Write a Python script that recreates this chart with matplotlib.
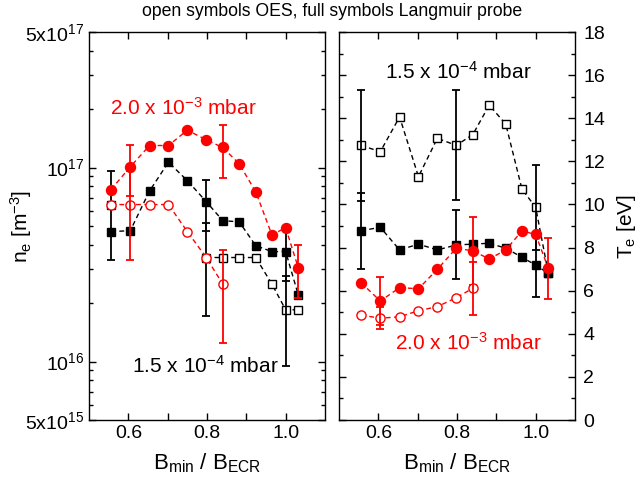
import numpy as np
import matplotlib.pyplot as plt
from matplotlib.ticker import FixedLocator, LogLocator, MultipleLocator, NullFormatter

plt.rcParams['font.family'] = ['Liberation Sans', 'DejaVu Sans']
plt.rcParams['mathtext.fontset'] = 'custom'
plt.rcParams['mathtext.rm'] = 'Liberation Sans'
plt.rcParams['mathtext.it'] = 'Liberation Sans:italic'
plt.rcParams['mathtext.bf'] = 'Liberation Sans:bold'

nan = np.nan

# B_min / B_ECR
b_ratio = np.array([0.556, 0.605, 0.654, 0.702, 0.750, 0.798,
                    0.840, 0.882, 0.924, 0.965, 1.000, 1.032])

# electron density n_e [m^-3]
ne_lp_low = [4.68e16, 4.73e16, 7.58e16, 1.066e17, 8.57e16, 6.68e16,
             5.33e16, 5.25e16, 3.96e16, 3.69e16, 3.69e16, 2.21e16]
ne_lp_low_err = [nan, nan, nan, nan, nan, 1.98e16, nan, nan, nan, nan, 1.1e16, nan]
ne_oes_low = [6.45e16, nan, nan, nan, nan, 3.44e16,
              3.44e16, 3.44e16, 3.44e16, 2.51e16, 1.85e16, 1.85e16]
ne_oes_low_err = [3.1e16, nan, nan, nan, nan, 1.72e16, nan, nan, nan, nan, 0.9e16, nan]
ne_lp_high = [7.7e16, 1.01e17, 1.30e17, 1.30e17, 1.56e17, 1.39e17,
              1.27e17, 1.045e17, 7.5e16, 4.5e16, 4.9e16, 3.05e16]
ne_lp_high_err = [nan, 3.0e16, nan, nan, nan, nan, 3.9e16, nan, nan, nan, nan, 0.93e16]
ne_oes_high = [6.45e16, 6.45e16, 6.45e16, 6.45e16, 4.68e16, 3.44e16,
               2.51e16, nan, nan, nan, nan, nan]
ne_oes_high_err = [nan, 3.1e16, nan, nan, nan, nan, 1.26e16, nan, nan, nan, nan, nan]

# electron temperature T_e [eV]
te_oes_low = [12.74, 12.45, 14.06, 11.29, 13.07, 12.74,
              13.24, 14.61, 13.72, 10.72, 9.86, 6.83]
te_oes_low_err = [2.56, nan, nan, nan, nan, 2.55, nan, nan, nan, nan, 1.96, nan]
te_lp_low = [8.78, 8.94, 7.89, 8.16, 7.89, 8.12,
             8.16, 8.20, 7.97, 7.55, 7.19, 6.80]
te_lp_low_err = [1.77, nan, nan, nan, nan, 1.6, nan, nan, nan, nan, 1.47, nan]
te_lp_high = [6.37, 5.52, 6.14, 6.09, 6.99, 7.97,
              7.85, 7.47, 7.89, 8.77, 8.61, 7.04]
te_lp_high_err = [nan, 1.1, nan, nan, nan, nan, 1.58, nan, nan, nan, nan, 1.41]
te_oes_high = [4.87, 4.72, 4.79, 5.07, 5.26, 5.67,
               6.11, nan, nan, nan, nan, nan]
te_oes_high_err = [nan, 0.5, nan, nan, nan, nan, 1.22, nan, nan, nan, nan, nan]

label_low = r'1.5 x 10$^{\mathrm{-4}}$ mbar'
label_high = r'2.0 x 10$^{\mathrm{-3}}$ mbar'


def draw(ax, y, err, color, marker, filled, ms):
    y = np.asarray(y, dtype=float)
    err = np.asarray(err, dtype=float)
    ax.plot(b_ratio, y, ls=(0, (3.5, 2.5)), lw=1.0, color=color,
            marker=marker, ms=ms, mfc=color if filled else 'white',
            mec=color, mew=1.0)
    m = np.isfinite(err)
    ax.errorbar(b_ratio[m], y[m], yerr=err[m], fmt='none', ecolor=color,
                elinewidth=1.3, capsize=3, capthick=1.3)


def style(ax):
    ax.set_xlim(0.5, 1.1)
    ax.xaxis.set_major_locator(FixedLocator([0.6, 0.8, 1.0]))
    ax.xaxis.set_minor_locator(FixedLocator([0.7, 0.9]))
    ax.tick_params(which='both', direction='in', top=True, bottom=True,
                   left=True, right=True, labelsize=14, width=1.0)
    ax.tick_params(which='major', length=5)
    ax.tick_params(axis='x', which='minor', length=5)
    ax.tick_params(axis='y', which='minor', length=3)
    ax.set_xticklabels(['0.6', '0.8', '1.0'])
    for s in ax.spines.values():
        s.set_linewidth(1.0)
    ax.set_xlabel(r'B$_{\mathrm{min}}$ / B$_{\mathrm{ECR}}$', fontsize=16)
    ax.xaxis.set_label_coords(0.5, -0.08)


fig = plt.figure(figsize=(6.37, 4.91), dpi=100)
ax1 = fig.add_axes([0.1397, 0.1446, 0.3705, 0.7902])
ax2 = fig.add_axes([0.5322, 0.1446, 0.3705, 0.7902])

# density panel
draw(ax1, ne_lp_low, ne_lp_low_err, 'black', 's', True, 5.3)
draw(ax1, ne_oes_low, ne_oes_low_err, 'black', 's', False, 5.3)
draw(ax1, ne_lp_high, ne_lp_high_err, 'red', 'o', True, 7.2)
draw(ax1, ne_oes_high, ne_oes_high_err, 'red', 'o', False, 6.6)
ax1.set_yscale('log')
ax1.set_ylim(5e15, 5e17)
ax1.yaxis.set_major_locator(FixedLocator([5e15, 1e16, 1e17, 5e17]))
ax1.yaxis.set_minor_locator(LogLocator(base=10, subs=np.arange(2, 10)))
ax1.yaxis.set_minor_formatter(NullFormatter())
ax1.set_yticklabels([r'5x10$^{\mathrm{15}}$', r'10$^{\mathrm{16}}$',
                     r'10$^{\mathrm{17}}$', r'5x10$^{\mathrm{17}}$'])
style(ax1)
ax1.set_ylabel(r'n$_{\mathrm{e}}$ [m$^{\mathrm{-3}}$]', fontsize=15)
ax1.yaxis.set_label_coords(-0.235, 0.5)
ax1.text(0.74, 2.03e17, label_high, color='red', fontsize=15,
         ha='center', va='center')
ax1.text(0.795, 9.5e15, label_low, color='black', fontsize=15,
         ha='center', va='center')

# temperature panel
draw(ax2, te_oes_low, te_oes_low_err, 'black', 's', False, 5.3)
draw(ax2, te_lp_low, te_lp_low_err, 'black', 's', True, 5.3)
draw(ax2, te_lp_high, te_lp_high_err, 'red', 'o', True, 7.2)
draw(ax2, te_oes_high, te_oes_high_err, 'red', 'o', False, 6.6)
ax2.set_ylim(0, 18)
ax2.yaxis.set_major_locator(MultipleLocator(2))
ax2.yaxis.set_minor_locator(MultipleLocator(1))
style(ax2)
ax2.tick_params(labelleft=False, labelright=True)
ax2.tick_params(axis='y', which='major', pad=6)
ax2.yaxis.set_label_position('right')
ax2.set_ylabel(r'T$_{\mathrm{e}}$ [eV]', fontsize=15)
ax2.yaxis.set_label_coords(1.17, 0.5)
ax2.text(0.803, 16.14, label_low, color='black', fontsize=15,
         ha='center', va='center')
ax2.text(0.828, 3.57, label_high, color='red', fontsize=15,
         ha='center', va='center')

fig.text(0.521, 0.976, 'open symbols OES, full symbols Langmuir probe',
         fontsize=12.7, ha='center', va='center')

fig.savefig('out.png', dpi=100)
